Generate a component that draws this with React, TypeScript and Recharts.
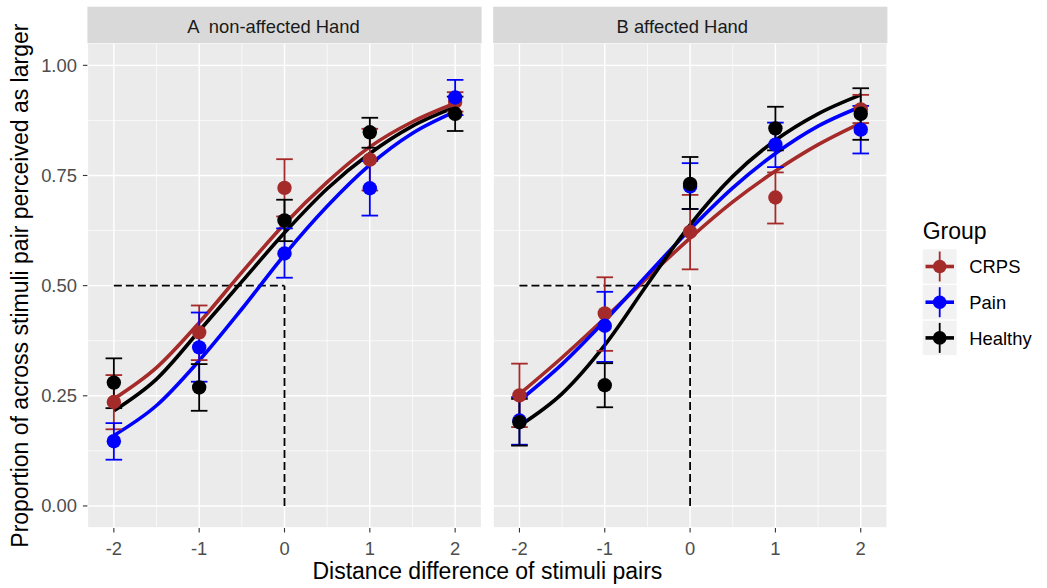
import React from 'react';
import {
  ComposedChart,
  Line,
  Scatter,
  ErrorBar,
  XAxis,
  YAxis,
  CartesianGrid,
  ReferenceLine,
} from 'recharts';

const FONT = '"Liberation Sans", Arial, Helvetica, sans-serif';

// ---------- categories / axes ----------
const groups = ['CRPS', 'Pain', 'Healthy'];
const groupColors = ['#A52A2A', '#0000FF', '#000000'];
const panelTitles = ['A  non-affected Hand', 'B affected Hand'];
const pointX = [-2, -1, 0, 1, 2];
const curveX = [-2, -1.5, -1, -0.5, 0, 0.5, 1, 1.5, 2];
const xTicks = [-2, -1, 0, 1, 2];
const xMinorTicks = [-1.5, -0.5, 0.5, 1.5];
const yTicks = [0, 0.25, 0.5, 0.75, 1];
const yMinorTicks = [0.125, 0.375, 0.625, 0.875];
const yTickLabels = ['0.00', '0.25', '0.50', '0.75', '1.00'];
const xDomain = [-2.31, 2.31];
const yDomain = [-0.05, 1.05];
const thresholdY = 0.5;
const pseX = 0;
const refStartX = -2;
const refBottomY = 0;
const xTitle = 'Distance difference of stimuli pairs';
const yTitle = 'Proportion of across stimuli pair perceived as larger';
const legendTitle = 'Group';

// ---------- Panel A: non-affected hand (observed means + CI) ----------
const aCrpsMean = [0.236, 0.394, 0.722, 0.786, 0.917];
const aCrpsLo = [0.174, 0.331, 0.657, 0.716, 0.895];
const aCrpsHi = [0.297, 0.455, 0.787, 0.856, 0.939];
const aPainMean = [0.147, 0.36, 0.573, 0.721, 0.927];
const aPainLo = [0.105, 0.282, 0.518, 0.659, 0.887];
const aPainHi = [0.188, 0.439, 0.63, 0.783, 0.967];
const aHealthyMean = [0.28, 0.269, 0.648, 0.848, 0.89];
const aHealthyLo = [0.222, 0.216, 0.601, 0.813, 0.851];
const aHealthyHi = [0.335, 0.322, 0.695, 0.881, 0.929];

// ---------- Panel A fitted curves (read at curveX) ----------
const aCrpsFit = [0.243, 0.314, 0.416, 0.53, 0.64, 0.735, 0.815, 0.872, 0.914];
const aPainFit = [0.16, 0.228, 0.33, 0.447, 0.57, 0.68, 0.774, 0.846, 0.895];
const aHealthyFit = [0.216, 0.288, 0.397, 0.509, 0.62, 0.72, 0.8, 0.862, 0.905];

// ---------- Panel B: affected hand (observed means + CI) ----------
const bCrpsMean = [0.251, 0.437, 0.622, 0.7, 0.9];
const bCrpsLo = [0.179, 0.352, 0.537, 0.641, 0.869];
const bCrpsHi = [0.323, 0.519, 0.706, 0.757, 0.933];
const bPainMean = [0.194, 0.409, 0.725, 0.82, 0.854];
const bPainLo = [0.139, 0.327, 0.674, 0.769, 0.8];
const bPainHi = [0.247, 0.486, 0.778, 0.87, 0.908];
const bHealthyMean = [0.19, 0.274, 0.731, 0.857, 0.89];
const bHealthyLo = [0.137, 0.224, 0.674, 0.807, 0.831];
const bHealthyHi = [0.243, 0.324, 0.792, 0.906, 0.948];

// ---------- Panel B fitted curves (read at curveX) ----------
const bCrpsFit = [0.254, 0.337, 0.426, 0.518, 0.608, 0.69, 0.76, 0.82, 0.869];
const bPainFit = [0.239, 0.322, 0.42, 0.525, 0.628, 0.722, 0.8, 0.862, 0.906];
const bHealthyFit = [0.182, 0.255, 0.365, 0.503, 0.638, 0.748, 0.83, 0.89, 0.933];

// ---------- builders ----------
const buildPoints = (mean: number[], lo: number[], hi: number[]) =>
  pointX.map((x, i) => ({ x, y: mean[i], err: [mean[i] - lo[i], hi[i] - mean[i]] }));
const buildCurve = (vals: number[]) => curveX.map((x, i) => ({ x, y: vals[i] }));

const panelA = {
  points: [
    buildPoints(aCrpsMean, aCrpsLo, aCrpsHi),
    buildPoints(aPainMean, aPainLo, aPainHi),
    buildPoints(aHealthyMean, aHealthyLo, aHealthyHi),
  ],
  curves: [buildCurve(aCrpsFit), buildCurve(aPainFit), buildCurve(aHealthyFit)],
};
const panelB = {
  points: [
    buildPoints(bCrpsMean, bCrpsLo, bCrpsHi),
    buildPoints(bPainMean, bPainLo, bPainHi),
    buildPoints(bHealthyMean, bHealthyLo, bHealthyHi),
  ],
  curves: [buildCurve(bCrpsFit), buildCurve(bPainFit), buildCurve(bHealthyFit)],
};

const CHART_H = 588;
const TOP = 43.3;
const XAXIS_H = 60;

type PanelProps = {
  data: { points: any[][]; curves: any[][] };
  width: number;
  showY: boolean;
  yAxisWidth: number;
};

function Panel({ data, width, showY, yAxisWidth }: PanelProps) {
  return (
    <ComposedChart
      width={width}
      height={CHART_H}
      margin={{ top: TOP, right: 0, bottom: 0, left: 0 }}
    >
      <XAxis
        xAxisId="minor"
        type="number"
        dataKey="x"
        domain={xDomain}
        ticks={xMinorTicks}
        allowDataOverflow
        hide
      />
      <YAxis
        yAxisId="minor"
        type="number"
        dataKey="y"
        domain={yDomain}
        ticks={yMinorTicks}
        allowDataOverflow
        hide
      />
      <CartesianGrid
        xAxisId="minor"
        yAxisId="minor"
        fill="#EBEBEB"
        fillOpacity={1}
        stroke="#FFFFFF"
        strokeWidth={0.7}
      />
      <CartesianGrid stroke="#FFFFFF" strokeWidth={1.4} />
      <XAxis
        type="number"
        dataKey="x"
        domain={xDomain}
        ticks={xTicks}
        allowDataOverflow
        height={XAXIS_H}
        axisLine={false}
        tickSize={4.5}
        tickMargin={9}
        tickLine={{ stroke: '#333333', strokeWidth: 1.1 }}
        tick={{ fill: '#4D4D4D', fontSize: 18.4, fontFamily: FONT }}
      />
      <YAxis
        type="number"
        dataKey="y"
        domain={yDomain}
        ticks={yTicks}
        allowDataOverflow
        width={yAxisWidth}
        hide={!showY}
        axisLine={false}
        tickSize={4.5}
        tickMargin={6}
        tickLine={{ stroke: '#333333', strokeWidth: 1.1 }}
        tick={{ fill: '#4D4D4D', fontSize: 18.4, fontFamily: FONT }}
        tickFormatter={(v: number) => yTickLabels[yTicks.indexOf(v)] ?? String(v)}
      />
      <ReferenceLine
        segment={[
          { x: refStartX, y: thresholdY },
          { x: pseX, y: thresholdY },
        ]}
        stroke="#000000"
        strokeWidth={1.8}
        strokeDasharray="8 4"
      />
      <ReferenceLine
        segment={[
          { x: pseX, y: refBottomY },
          { x: pseX, y: thresholdY },
        ]}
        stroke="#000000"
        strokeWidth={1.8}
        strokeDasharray="8 4"
      />
      {data.curves.map((c, i) => (
        <Line
          key={'line' + i}
          data={c}
          dataKey="y"
          type="monotone"
          stroke={groupColors[i]}
          strokeWidth={3.6}
          dot={false}
          activeDot={false}
          isAnimationActive={false}
          legendType="none"
        />
      ))}
      {data.points.map((p, i) => (
        <Scatter
          key={'err' + i}
          data={p}
          dataKey="y"
          isAnimationActive={false}
          shape={() => <g />}
          legendType="none"
        >
          <ErrorBar
            dataKey="err"
            direction="y"
            width={8.3}
            stroke={groupColors[i]}
            strokeWidth={1.8}
            isAnimationActive={false}
          />
        </Scatter>
      ))}
      {data.points.map((p, i) => (
        <Scatter
          key={'pt' + i}
          data={p}
          dataKey="y"
          isAnimationActive={false}
          legendType="none"
          shape={(props: any) => (
            <circle cx={props.cx} cy={props.cy} r={7.2} fill={groupColors[i]} />
          )}
        />
      ))}
    </ComposedChart>
  );
}

const PANEL_A_LEFT = 0;
const PANEL_A_W = 481.6;
const Y_AXIS_W = 87.4;
const PANEL_B_LEFT = 493.2;
const PANEL_B_W = 394.2;

export default function App() {
  const stripTop = 6.7;
  const stripH = TOP - stripTop;
  const plotAx = PANEL_A_LEFT + Y_AXIS_W;
  const plotAw = PANEL_A_W - Y_AXIS_W;
  const legendRows = [266.5, 302.2, 337.9];
  return (
    <div
      style={{
        position: 'absolute',
        left: 0,
        top: 0,
        width: 1047,
        height: 588,
        background: '#FFFFFF',
        fontFamily: FONT,
        overflow: 'hidden',
      }}
    >
      <div style={{ position: 'absolute', left: PANEL_A_LEFT, top: 0 }}>
        <Panel data={panelA} width={PANEL_A_W} showY={true} yAxisWidth={Y_AXIS_W} />
      </div>
      <div style={{ position: 'absolute', left: PANEL_B_LEFT, top: 0 }}>
        <Panel data={panelB} width={PANEL_B_W} showY={false} yAxisWidth={0} />
      </div>
      <svg
        width={1047}
        height={588}
        style={{ position: 'absolute', left: 0, top: 0, pointerEvents: 'none' }}
      >
        {/* strips */}
        <rect x={plotAx} y={stripTop} width={plotAw} height={stripH} fill="#D9D9D9" />
        <rect x={PANEL_B_LEFT} y={stripTop} width={PANEL_B_W} height={stripH} fill="#D9D9D9" />
        <text
          x={plotAx + plotAw / 2 - 11}
          y={33.3}
          textAnchor="middle"
          fontSize={18.4}
          fill="#1A1A1A"
          fontFamily={FONT}
          style={{ whiteSpace: 'pre' }}
          xmlSpace="preserve"
        >
          {panelTitles[0]}
        </text>
        <text
          x={PANEL_B_LEFT + PANEL_B_W / 2 - 8}
          y={33.3}
          textAnchor="middle"
          fontSize={18.4}
          fill="#1A1A1A"
          fontFamily={FONT}
        >
          {panelTitles[1]}
        </text>
        {/* axis titles */}
        <text
          x={(plotAx + PANEL_B_LEFT + PANEL_B_W) / 2}
          y={579}
          textAnchor="middle"
          fontSize={23}
          fill="#000000"
          fontFamily={FONT}
        >
          {xTitle}
        </text>
        <text
          transform={`translate(28, ${TOP + (CHART_H - XAXIS_H - TOP) / 2}) rotate(-90)`}
          textAnchor="middle"
          fontSize={23}
          fill="#000000"
          fontFamily={FONT}
        >
          {yTitle}
        </text>
        {/* legend */}
        <text x={922.7} y={239.2} fontSize={23} fill="#000000" fontFamily={FONT}>
          {legendTitle}
        </text>
        {groups.map((g, i) => {
          const cy = legendRows[i];
          const cx = 939.7;
          return (
            <g key={g}>
              <rect x={922.7} y={cy - 17.2} width={34} height={34.4} fill="#F2F2F2" />
              <line x1={925.5} x2={954} y1={cy} y2={cy} stroke={groupColors[i]} strokeWidth={3.6} />
              <line x1={cx} x2={cx} y1={cy - 15} y2={cy + 15} stroke={groupColors[i]} strokeWidth={1.8} />
              <circle cx={cx} cy={cy} r={6.8} fill={groupColors[i]} />
              <text x={969.3} y={cy + 6.6} fontSize={18.4} fill="#000000" fontFamily={FONT}>
                {g}
              </text>
            </g>
          );
        })}
      </svg>
    </div>
  );
}
